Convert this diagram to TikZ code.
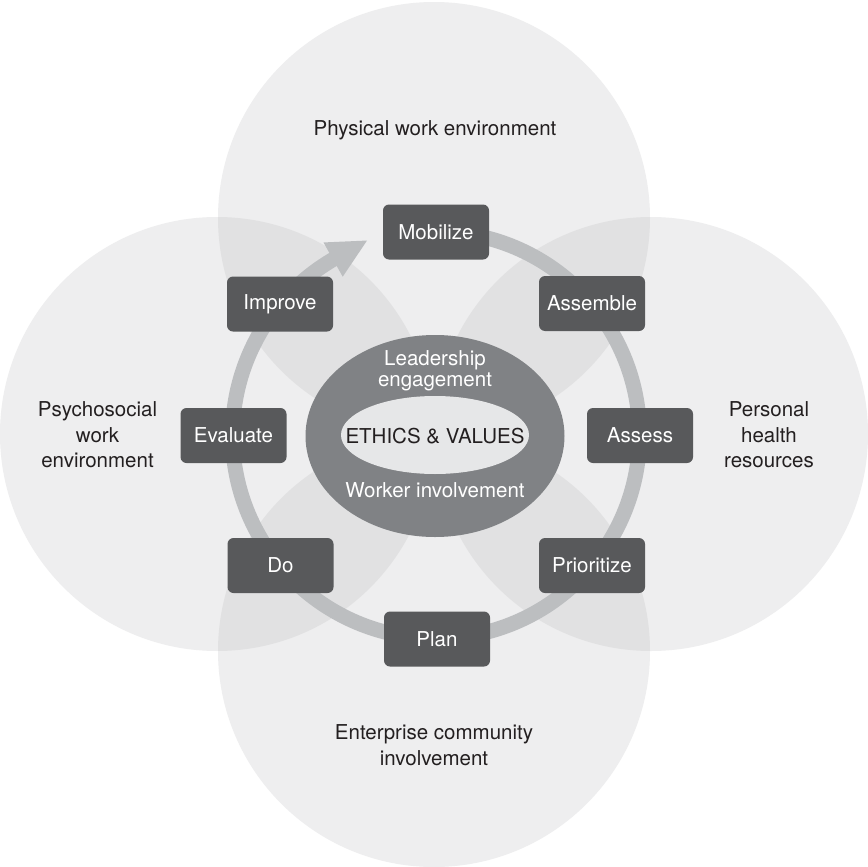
\documentclass[tikz,border=0pt]{standalone}
\usepackage{fontspec}
\setmainfont{TeX Gyre Heros}
\usetikzlibrary{arrows.meta,bending}
\definecolor{zoneone}{HTML}{EEEEEF}
\definecolor{zonetwo}{HTML}{E1E1E2}
\definecolor{boxgray}{HTML}{58595B}
\definecolor{ringgray}{HTML}{BCBEC0}
\definecolor{hubgray}{HTML}{808285}
\definecolor{corelight}{HTML}{E6E7E8}
\definecolor{ink}{HTML}{231F20}
\begin{document}
\begin{tikzpicture}[x=0.5pt,y=-0.5pt,
  basefont/.style={font=\fontsize{10.25}{12.75}\selectfont},
  zonelabel/.style={basefont,text=ink,align=center,inner sep=0pt},
  stepbox/.style={basefont,fill=boxgray,text=white,rounded corners=3pt,
    minimum width=53pt,minimum height=27.5pt,inner sep=0pt},
  hubtext/.style={font=\fontsize{10.25}{10.5}\selectfont,align=center,inner sep=0pt},
  ring/.style={draw=ringgray,line width=7.5pt,
    -{Triangle[width=18pt,length=20pt,flex]}}]
\useasboundingbox (0,0) rectangle (868,867);
\fill[white] (0,0) rectangle (868,867);

% four overlapping zones
\fill[zoneone] (434,218) circle (216);
\fill[zoneone] (217,434) circle (217);
\fill[zoneone] (651,434) circle (217);
\fill[zoneone] (434,651) circle (216);
\begin{scope}
  \clip (434,218) circle (216);
  \fill[zonetwo] (217,434) circle (217);
  \fill[zonetwo] (651,434) circle (217);
\end{scope}
\begin{scope}
  \clip (434,651) circle (216);
  \fill[zonetwo] (217,434) circle (217);
  \fill[zonetwo] (651,434) circle (217);
\end{scope}

% zone labels
\node[zonelabel] (phys) at (435,130) {Physical work environment};
\node[zonelabel] (psych) at (97.5,435) {Psychosocial\\work\\environment};
\node[zonelabel] (pers) at (769,435) {Personal\\health\\resources};
\node[zonelabel] (ent) at (434,745) {Enterprise community\\involvement};

% cycle ring with arrow
\coordinate (ringc) at (436,435);
\coordinate (ringtip) at (368,240);
\draw[ring] (ringc) ++(-90:203.5) arc[start angle=-90,end angle=243,radius=203.5] -- (ringtip);

% central hub
\fill[hubgray] (435,436) ellipse [x radius=129.5,y radius=101];
\fill[corelight] (435,435) ellipse [x radius=94,y radius=39];
\node[hubtext,text=white] (lead) at (435,371) {Leadership\\engagement};
\node[hubtext,text=ink] (ethics) at (435,436) {ETHICS \& VALUES};
\node[hubtext,text=white] (worker) at (435,490) {Worker involvement};

% cycle steps
\node[stepbox] (mob) at (436,232) {Mobilize};
\node[stepbox] (asm) at (592,303.5) {Assemble};
\node[stepbox] (ass) at (640,435.5) {Assess};
\node[stepbox] (pri) at (592,565.5) {Prioritize};
\node[stepbox] (plan) at (437,639) {Plan};
\node[stepbox] (do) at (280.5,565.5) {Do};
\node[stepbox] (eval) at (233.5,435.5) {Evaluate};
\node[stepbox] (imp) at (280,304) {Improve};
\end{tikzpicture}
\end{document}
